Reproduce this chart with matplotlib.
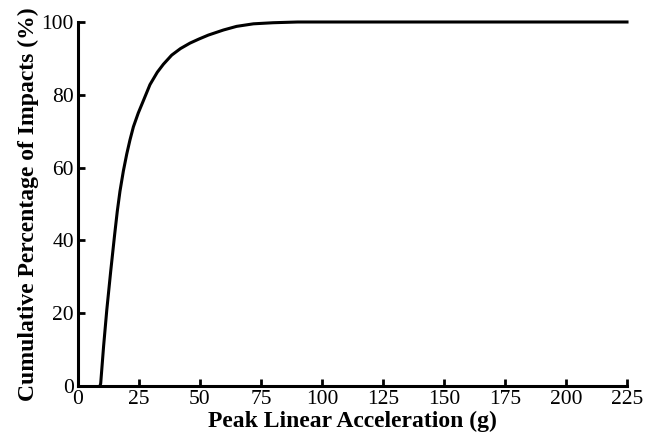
import matplotlib
matplotlib.use("Agg")
import matplotlib.pyplot as plt

accel = [9.0, 9.3, 10.5, 11.8, 13.4, 15.0, 16.1, 17.2, 18.6, 20.0, 21.3, 22.7, 24.7, 26.8, 29.5, 32.5, 35.0, 38.4, 42.0, 45.9, 49.5, 53.4, 59.6, 65.0, 71.9, 80.0, 90.0, 110.0, 150.0, 225.0]
cum_pct = [0.0, 0.7, 11.0, 20.9, 31.5, 41.5, 48.0, 53.5, 59.1, 63.8, 67.6, 71.2, 75.0, 78.4, 82.8, 86.2, 88.4, 90.9, 92.7, 94.2, 95.3, 96.4, 97.8, 98.8, 99.5, 99.8, 100.0, 100.0, 100.0, 100.0]
xticks = [0, 25, 50, 75, 100, 125, 150, 175, 200, 225]
yticks = [0, 20, 40, 60, 80, 100]

plt.rcParams['font.family'] = ['Liberation Serif', 'DejaVu Serif']
fig = plt.figure(figsize=(6.47, 4.44), dpi=100)
ax = fig.add_axes([78/647, 58/444, 549/647, 364/444])
ax.plot(accel, cum_pct, color='black', lw=2.2, clip_on=False, solid_joinstyle='round')
ax.set_xlim(0, 225)
ax.set_ylim(0, 100)
ax.set_xticks(xticks)
ax.set_yticks(yticks)
for s in ['top', 'right']:
    ax.spines[s].set_visible(False)
for s in ['left', 'bottom']:
    ax.spines[s].set_linewidth(2.2)
ax.tick_params(direction='in', length=5, width=2, labelsize=15.5, pad=3)
ax.set_xlabel('Peak Linear Acceleration (g)', fontsize=17, fontweight='bold', labelpad=1)
ax.set_ylabel('Cumulative Percentage of Impacts (%)', fontsize=17, fontweight='bold', labelpad=2)
fig.savefig('out.png', dpi=100)
